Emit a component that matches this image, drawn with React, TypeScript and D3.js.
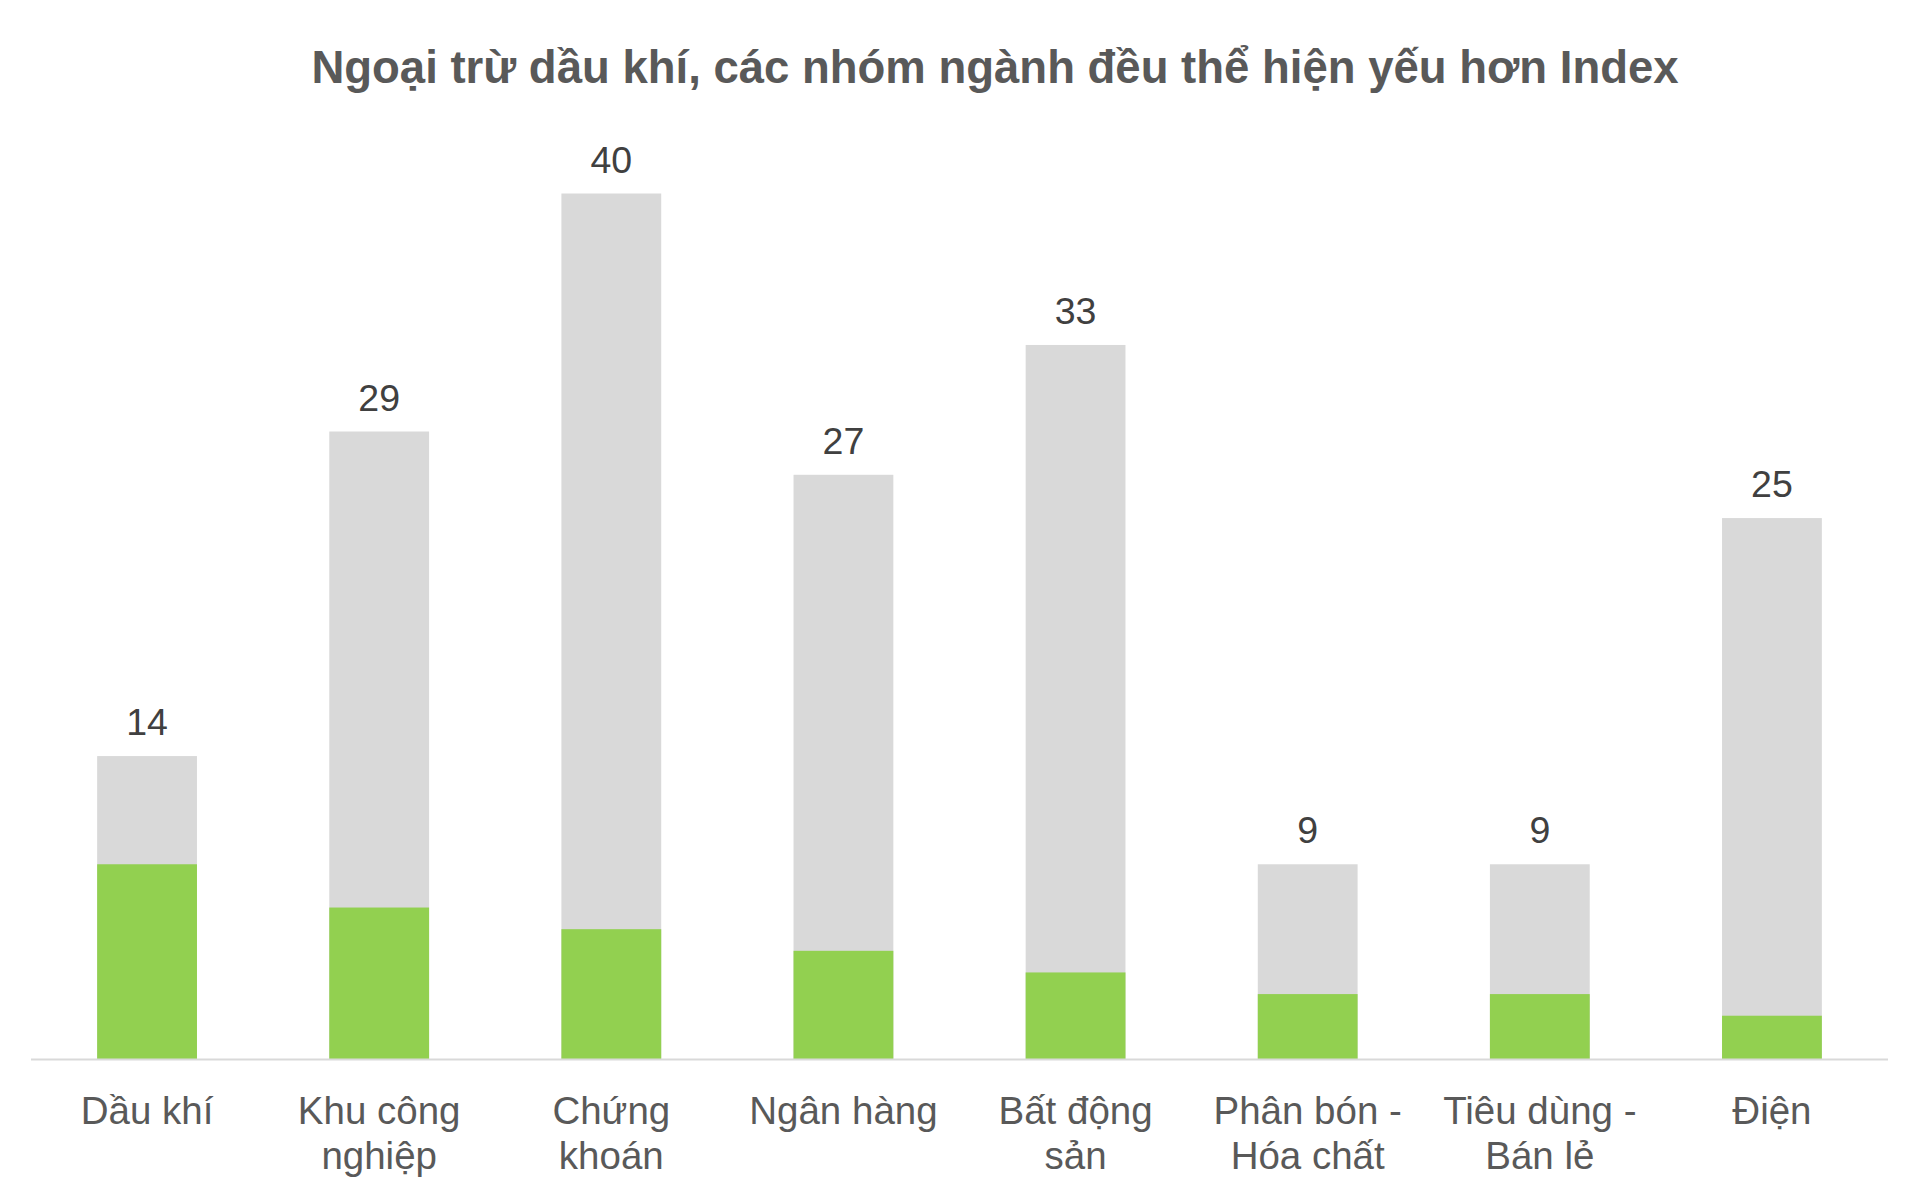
import React from "react";
import * as d3 from "d3";

const title = "Ngoại trừ dầu khí, các nhóm ngành đều thể hiện yếu hơn Index";
const categories: string[][] = [
  ["Dầu khí"],
  ["Khu công", "nghiệp"],
  ["Chứng", "khoán"],
  ["Ngân hàng"],
  ["Bất động", "sản"],
  ["Phân bón -", "Hóa chất"],
  ["Tiêu dùng -", "Bán lẻ"],
  ["Điện"],
];
const totalValues = [14, 29, 40, 27, 33, 9, 9, 25];
const greenValues = [9, 7, 6, 5, 4, 3, 3, 2];

const W = 1920;
const H = 1200;
const FONT = "'Liberation Sans', Arial, Helvetica, sans-serif";

export default function App() {
  const keys = categories.map((c) => c.join(" "));
  const x = d3.scaleBand<string>().domain(keys).range([31, 1888]).paddingInner(0.57).paddingOuter(0.285);
  const y = d3.scaleLinear().domain([0, 40]).range([1059, 193.5]);
  const bw = x.bandwidth();

  return (
    <div style={{ position: "fixed", left: 0, top: 0, background: "#fff" }}>
      <svg width={W} height={H} viewBox={`0 0 ${W} ${H}`} style={{ display: "block" }}>
        <rect x={0} y={0} width={W} height={H} fill="#ffffff" />
        <text
          x={995}
          y={83}
          textAnchor="middle"
          fontFamily={FONT}
          fontWeight="bold"
          fontSize={45.5}
          fill="#595959"
        >
          {title}
        </text>
        {keys.map((k, i) => (
          <g key={k}>
            <rect x={x(k)} y={y(totalValues[i])} width={bw} height={y(0) - y(totalValues[i])} fill="#d9d9d9" />
            <rect x={x(k)} y={y(greenValues[i])} width={bw} height={y(0) - y(greenValues[i])} fill="#92d050" />
            <text
              x={(x(k) as number) + bw / 2}
              y={y(totalValues[i]) - 21}
              textAnchor="middle"
              fontFamily={FONT}
              fontSize={37.5}
              fill="#404040"
            >
              {totalValues[i]}
            </text>
            {categories[i].map((line, j) => (
              <text
                key={j}
                x={(x(k) as number) + bw / 2}
                y={1124 + j * 45}
                textAnchor="middle"
                fontFamily={FONT}
                fontSize={38.5}
                fill="#595959"
              >
                {line}
              </text>
            ))}
          </g>
        ))}
        <line x1={31} x2={1888} y1={y(0) + 0.5} y2={y(0) + 0.5} stroke="#d9d9d9" strokeWidth={2} />
      </svg>
    </div>
  );
}
